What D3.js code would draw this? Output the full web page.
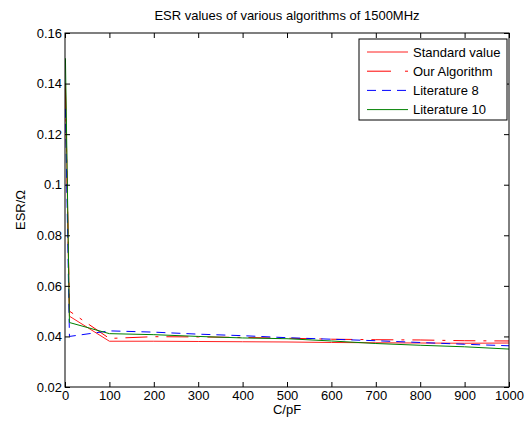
<!DOCTYPE html>
<html>
<head>
<meta charset="utf-8">
<script src="https://cdn.jsdelivr.net/npm/d3@7"></script>
<style>
  body { margin: 0; background: #fff; }
  svg { font-family: "Liberation Sans", Arial, Helvetica, sans-serif; }
  .axis text { font-size: 13px; fill: #000; }
  .axis line { stroke: #000; }
</style>
</head>
<body>
<svg id="chart" width="527" height="424"></svg>
<script>
// values
var capacitance = [1, 10, 100, 200, 300, 400, 500, 600, 700, 800, 900, 1000];
var standardValue = [0.140, 0.048, 0.0381, 0.0381, 0.0380, 0.0379, 0.0378, 0.0376, 0.0375, 0.0374, 0.0373, 0.0374];
var ourAlgorithm = [0.138, 0.050, 0.0392, 0.0399, 0.0398, 0.0396, 0.0393, 0.0389, 0.0387, 0.0386, 0.0383, 0.0382];
var literature8 = [0.130, 0.040, 0.0422, 0.0417, 0.0409, 0.0403, 0.0395, 0.0389, 0.0383, 0.0376, 0.0369, 0.0363];
var literature10 = [0.150, 0.0455, 0.0411, 0.0407, 0.0400, 0.0394, 0.0391, 0.0382, 0.0372, 0.0365, 0.0359, 0.0350];

var seriesNames = ["Standard value", "Our Algorithm", "Literature 8", "Literature 10"];
var xTicks = [0, 100, 200, 300, 400, 500, 600, 700, 800, 900, 1000];
var yTicks = [0.02, 0.04, 0.06, 0.08, 0.1, 0.12, 0.14, 0.16];

var svg = d3.select("#chart"),
    margin = {top: 33, right: 18, bottom: 37, left: 65},
    width = +svg.attr("width") - margin.left - margin.right,
    height = +svg.attr("height") - margin.top - margin.bottom;

var g = svg.append("g")
    .attr("transform", "translate(" + margin.left + "," + margin.top + ")");

var x = d3.scaleLinear().domain([0, 1000]).range([0, width]),
    y = d3.scaleLinear().domain([0.02, 0.16]).range([height, 0]);

var series = [
  {name: seriesNames[0], values: standardValue, color: "#ff2020", dash: null, legendDash: null},
  {name: seriesNames[1], values: ourAlgorithm, color: "#ff0000", dash: "22,8,3,8", legendDash: "24,14,3,10"},
  {name: seriesNames[2], values: literature8, color: "#0000ff", dash: "9,6", legendDash: "9,6"},
  {name: seriesNames[3], values: literature10, color: "#008000", dash: null, legendDash: null}
];

var line = d3.line()
    .x(function(d) { return x(d[0]); })
    .y(function(d) { return y(d[1]); });

series.forEach(function(s) {
  g.append("path")
    .datum(capacitance.map(function(c, i) { return [c, s.values[i]]; }))
    .attr("fill", "none")
    .attr("stroke", s.color)
    .attr("stroke-width", 1)
    .attr("stroke-dasharray", s.dash)
    .attr("d", line);
});

// axes, ticks pointing inward like matlab
g.append("g")
    .attr("class", "axis")
    .attr("transform", "translate(0," + height + ")")
    .call(d3.axisBottom(x).tickValues(xTicks).tickSizeInner(-5).tickSizeOuter(0).tickPadding(4)
      .tickFormat(d3.format("d")))
    .call(function(a) { a.select(".domain").remove(); });

g.append("g")
    .attr("class", "axis")
    .call(d3.axisLeft(y).tickValues(yTicks).tickSizeInner(-5).tickSizeOuter(0).tickPadding(3)
      .tickFormat(function(d) { return String(+d.toFixed(2)); }))
    .call(function(a) { a.select(".domain").remove(); });

g.append("g")
    .attr("class", "axis")
    .call(d3.axisTop(x).tickValues(xTicks).tickSizeInner(-5).tickSizeOuter(0).tickFormat(""))
    .call(function(a) { a.select(".domain").remove(); });

g.append("g")
    .attr("class", "axis")
    .attr("transform", "translate(" + width + ",0)")
    .call(d3.axisRight(y).tickValues(yTicks).tickSizeInner(-5).tickSizeOuter(0).tickFormat(""))
    .call(function(a) { a.select(".domain").remove(); });

g.append("rect")
    .attr("width", width)
    .attr("height", height)
    .attr("fill", "none")
    .attr("stroke", "#000")
    .attr("stroke-width", 1);

// title and labels
svg.append("text")
    .attr("x", margin.left + width / 2)
    .attr("y", 20)
    .attr("text-anchor", "middle")
    .attr("font-size", "13px")
    .text("ESR values of various algorithms of 1500MHz");

svg.append("text")
    .attr("x", margin.left + width / 2)
    .attr("y", 414)
    .attr("text-anchor", "middle")
    .attr("font-size", "13px")
    .text("C/pF");

svg.append("text")
    .attr("transform", "translate(25," + (margin.top + height / 2) + ") rotate(-90)")
    .attr("text-anchor", "middle")
    .attr("font-size", "13px")
    .text("ESR/Ω");

// legend
var legend = g.append("g")
    .attr("transform", "translate(" + (width - 150) + ",6)");

legend.append("rect")
    .attr("width", 148)
    .attr("height", 81)
    .attr("fill", "#fff")
    .attr("stroke", "#000");

series.forEach(function(s, i) {
  var row = legend.append("g").attr("transform", "translate(0," + (13 + i * 19.2) + ")");
  row.append("line")
    .attr("x1", 8).attr("x2", 49)
    .attr("y1", 0).attr("y2", 0)
    .attr("stroke", s.color)
    .attr("stroke-dasharray", s.legendDash);
  row.append("text")
    .attr("x", 54)
    .attr("dy", "0.35em")
    .attr("font-size", "13px")
    .text(s.name);
});
</script>
</body>
</html>
